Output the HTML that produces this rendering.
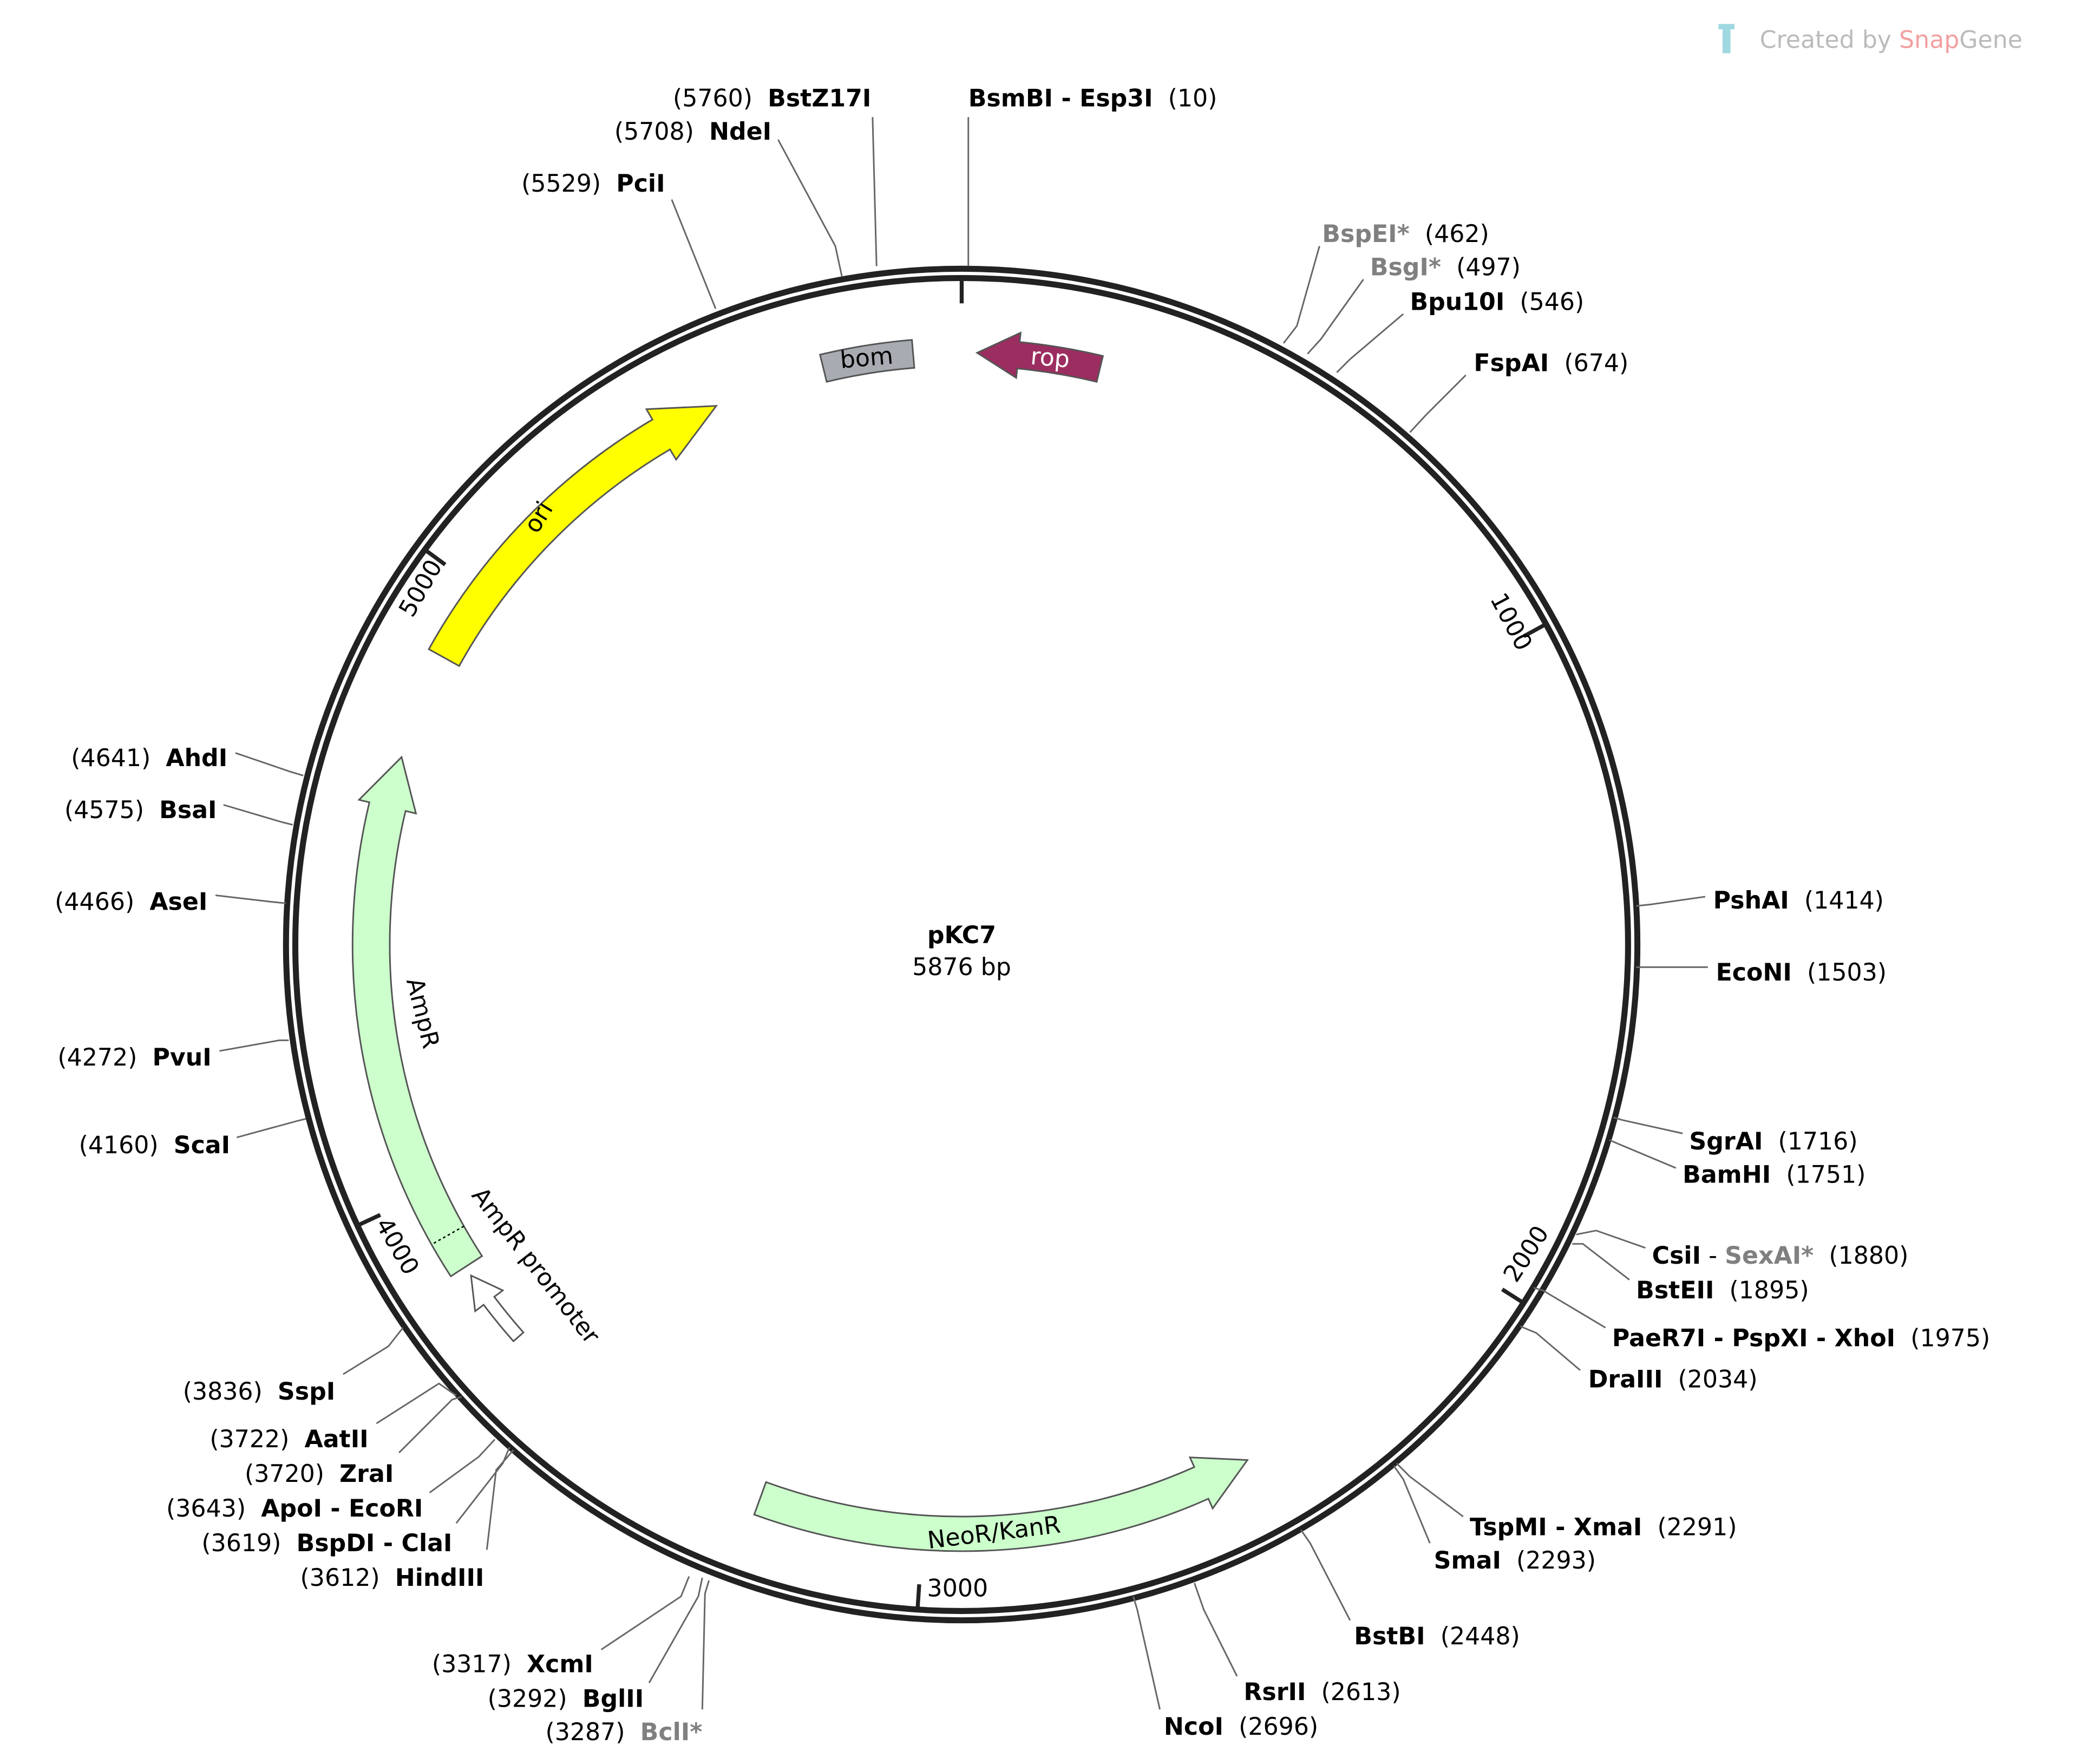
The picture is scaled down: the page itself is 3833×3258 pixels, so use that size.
<!DOCTYPE html>
<html><head><meta charset="utf-8"><style>
html,body{margin:0;padding:0;background:#fff;}
svg{display:block;}
text{font-family:"DejaVu Sans","Liberation Sans",sans-serif;font-size:18px;fill:#000;white-space:pre;}
.b{font-weight:bold;}
.g{fill:#808080;font-weight:bold;}
.l{stroke:#666;stroke-width:1.2;fill:none;}
</style></head><body>
<svg id="s" width="3833" height="3258" viewBox="0 0 1560 1326" xmlns="http://www.w3.org/2000/svg" xml:space="preserve">
<rect width="1560" height="1326" fill="#fff"/>
<circle cx="723" cy="710" r="508" fill="none" stroke="#222" stroke-width="4.5"/>
<circle cx="723" cy="710" r="501" fill="none" stroke="#222" stroke-width="4.5"/>
<g id="ticks" stroke="#222" stroke-width="3"></g>
<g id="feat"></g>

<text x="1120" y="450" transform="rotate(62 1120 450)" font-size="17">1000</text>
<text x="1140" y="965" transform="rotate(-57 1140 965)" font-size="17">2000</text>
<text x="697" y="1200" font-size="17">3000</text>
<text x="282" y="920" transform="rotate(60 282 920)" font-size="17">4000</text>
<text x="310" y="465" transform="rotate(-60 310 465)" font-size="17">5000</text>

<text x="410" y="392" transform="rotate(-58 410 392)" text-anchor="middle">ori</text>
<text x="652" y="275" transform="rotate(-5 652 275)" text-anchor="middle">bom</text>
<text x="789" y="275" transform="rotate(5 789 275)" text-anchor="middle" style="fill:#fff">rop</text>
<text x="312" y="763" transform="rotate(76 312 763)" text-anchor="middle">AmpR</text>
<text x="398" y="955" transform="rotate(52 398 955)" text-anchor="middle">AmpR promoter</text>
<text x="748" y="1158" transform="rotate(-7 748 1158)" text-anchor="middle">NeoR/KanR</text>

<text x="723" y="709" text-anchor="middle" class="b" font-size="21">pKC7</text>
<text x="723" y="733" text-anchor="middle" font-size="17">5876 bp</text>

<rect x="1292" y="18" width="12" height="4" fill="#9fd8e0"/>
<rect x="1295" y="22" width="6" height="18" fill="#9fd8e0"/>
<text x="1323" y="36" font-size="20" style="fill:#bbb">Created by <tspan style="fill:#f2a0a0">Snap</tspan><tspan style="fill:#bbb">Gene</tspan></text>

<g class="l">
<polyline points="656,88 659,200"/>
<polyline points="585,105 628,185 633,208"/>
<polyline points="505,150 538,232"/>
<polyline points="728,88 728,200"/>
<polyline points="992,185 975,245 965,258"/>
<polyline points="1025,210 993,255 983,266"/>
<polyline points="1055,236 1015,270 1005,280"/>
<polyline points="1102,282 1072,312 1060,325"/>
<polyline points="1282,674 1240,680 1230,681"/>
<polyline points="1284,727 1240,727 1230,727"/>
<polyline points="1265,852 1220,842 1213,840"/>
<polyline points="1260,878 1217,860 1210,857"/>
<polyline points="1237,938 1200,925 1185,928"/>
<polyline points="1225,962 1190,935 1182,935"/>
<polyline points="1207,998 1160,970 1153,968"/>
<polyline points="1188,1030 1155,1002 1143,997"/>
<polyline points="1100,1140 1060,1110 1050,1100"/>
<polyline points="1075,1160 1055,1112 1048,1102"/>
<polyline points="1015,1218 985,1160 978,1150"/>
<polyline points="930,1260 905,1210 898,1190"/>
<polyline points="872,1285 855,1210 852,1200"/>
<polyline points="452,1240 512,1200 518,1185"/>
<polyline points="488,1265 525,1200 528,1186"/>
<polyline points="528,1285 530,1198 533,1188"/>
<polyline points="258,1033 292,1012 303,998"/>
<polyline points="283,1070 330,1040 343,1049"/>
<polyline points="300,1092 340,1052 347,1050"/>
<polyline points="323,1122 360,1095 372,1082"/>
<polyline points="343,1145 378,1100 383,1088"/>
<polyline points="366,1165 373,1105 386,1090"/>
<polyline points="177,566 218,580 228,583"/>
<polyline points="168,605 212,618 220,620"/>
<polyline points="162,673 205,678 215,679"/>
<polyline points="165,790 210,782 217,782"/>
<polyline points="178,855 222,843 230,841"/>
</g>

<text x="655" y="80" text-anchor="end">(5760)  <tspan class="b">BstZ17I</tspan></text>
<text x="580" y="105" text-anchor="end">(5708)  <tspan class="b">NdeI</tspan></text>
<text x="500" y="144" text-anchor="end">(5529)  <tspan class="b">PciI</tspan></text>
<text x="728" y="80"><tspan class="b">BsmBI - Esp3I</tspan>  (10)</text>
<text x="994" y="182"><tspan class="g">BspEI*</tspan>  (462)</text>
<text x="1030" y="207"><tspan class="g">BsgI*</tspan>  (497)</text>
<text x="1060" y="233"><tspan class="b">Bpu10I</tspan>  (546)</text>
<text x="1108" y="279"><tspan class="b">FspAI</tspan>  (674)</text>
<text x="1288" y="683"><tspan class="b">PshAI</tspan>  (1414)</text>
<text x="1290" y="737"><tspan class="b">EcoNI</tspan>  (1503)</text>
<text x="1270" y="864"><tspan class="b">SgrAI</tspan>  (1716)</text>
<text x="1265" y="889"><tspan class="b">BamHI</tspan>  (1751)</text>
<text x="1242" y="950"><tspan class="b">CsiI</tspan> - <tspan class="g">SexAI*</tspan>  (1880)</text>
<text x="1230" y="976"><tspan class="b">BstEII</tspan>  (1895)</text>
<text x="1212" y="1012"><tspan class="b">PaeR7I - PspXI - XhoI</tspan>  (1975)</text>
<text x="1194" y="1043"><tspan class="b">DraIII</tspan>  (2034)</text>
<text x="1105" y="1154"><tspan class="b">TspMI - XmaI</tspan>  (2291)</text>
<text x="1078" y="1179"><tspan class="b">SmaI</tspan>  (2293)</text>
<text x="1018" y="1236"><tspan class="b">BstBI</tspan>  (2448)</text>
<text x="935" y="1278"><tspan class="b">RsrII</tspan>  (2613)</text>
<text x="875" y="1304"><tspan class="b">NcoI</tspan>  (2696)</text>
<text x="446" y="1257" text-anchor="end">(3317)  <tspan class="b">XcmI</tspan></text>
<text x="484" y="1283" text-anchor="end">(3292)  <tspan class="b">BglII</tspan></text>
<text x="528" y="1308" text-anchor="end">(3287)  <tspan class="g">BclI*</tspan></text>
<text x="252" y="1052" text-anchor="end">(3836)  <tspan class="b">SspI</tspan></text>
<text x="277" y="1088" text-anchor="end">(3722)  <tspan class="b">AatII</tspan></text>
<text x="296" y="1114" text-anchor="end">(3720)  <tspan class="b">ZraI</tspan></text>
<text x="318" y="1140" text-anchor="end">(3643)  <tspan class="b">ApoI - EcoRI</tspan></text>
<text x="340" y="1166" text-anchor="end">(3619)  <tspan class="b">BspDI - ClaI</tspan></text>
<text x="364" y="1192" text-anchor="end">(3612)  <tspan class="b">HindIII</tspan></text>
<text x="171" y="576" text-anchor="end">(4641)  <tspan class="b">AhdI</tspan></text>
<text x="163" y="615" text-anchor="end">(4575)  <tspan class="b">BsaI</tspan></text>
<text x="156" y="684" text-anchor="end">(4466)  <tspan class="b">AseI</tspan></text>
<text x="159" y="801" text-anchor="end">(4272)  <tspan class="b">PvuI</tspan></text>
<text x="173" y="867" text-anchor="end">(4160)  <tspan class="b">ScaI</tspan></text>
</svg>
<script>
(function(){
var cx=723,cy=710,NS="http://www.w3.org/2000/svg";
function P(r,a){a=a*Math.PI/180;return [cx+r*Math.sin(a),cy-r*Math.cos(a)];}
function f(p){return p[0].toFixed(1)+","+p[1].toFixed(1);}
var t=document.getElementById("ticks");
for(var i=0;i<6;i++){var a=i*1000/5876*360;var p1=P(499,a),p2=P(482,a);
var l=document.createElementNS(NS,"line");l.setAttribute("x1",p1[0]);l.setAttribute("y1",p1[1]);l.setAttribute("x2",p2[0]);l.setAttribute("y2",p2[1]);t.appendChild(l);}
var g=document.getElementById("feat");
function add(d,fill,stroke){var e=document.createElementNS(NS,"path");e.setAttribute("d",d);e.setAttribute("fill",fill);e.setAttribute("stroke",stroke||"#555");e.setAttribute("stroke-width","1.2");g.appendChild(e);}
function arrow(r1,r2,a0,a1,hl,hw,fill){
 var dir=a1>a0?1:-1,ah=a1-dir*hl,rm=(r1+r2)/2;
 var sw=dir>0?1:0,sw2=dir>0?0:1;
 var d="M"+f(P(r2,a0))+" A"+r2+","+r2+" 0 0 "+sw+" "+f(P(r2,ah))+" L"+f(P(r2+hw,ah))+" L"+f(P(rm,a1))+" L"+f(P(r1-hw,ah))+" L"+f(P(r1,ah))+" A"+r1+","+r1+" 0 0 "+sw2+" "+f(P(r1,a0))+" Z";
 add(d,fill);}
arrow(432,458,299,335.5,6,9,"#ffff00");
arrow(430,458,237,288.5,5,8,"#ccffcc");
arrow(430,456,200,151,5,8,"#ccffcc");
arrow(435,455,13.5,1.5,4,7,"#9c2d60");
arrow(440,450,228.5,236,3,8,"#ffffff");
add("M"+f(P(435,346.5))+" A435,435 0 0 1 "+f(P(435,355.3))+" L"+f(P(456,355.3))+" A456,456 0 0 0 "+f(P(456,346.5))+" Z","#a8acb2");
var p1=P(430,240.5),p2=P(458,240.5);
var l=document.createElementNS(NS,"line");l.setAttribute("x1",p1[0]);l.setAttribute("y1",p1[1]);l.setAttribute("x2",p2[0]);l.setAttribute("y2",p2[1]);l.setAttribute("stroke","#000");l.setAttribute("stroke-dasharray","2,2");g.appendChild(l);
})();
</script>
</body></html>
